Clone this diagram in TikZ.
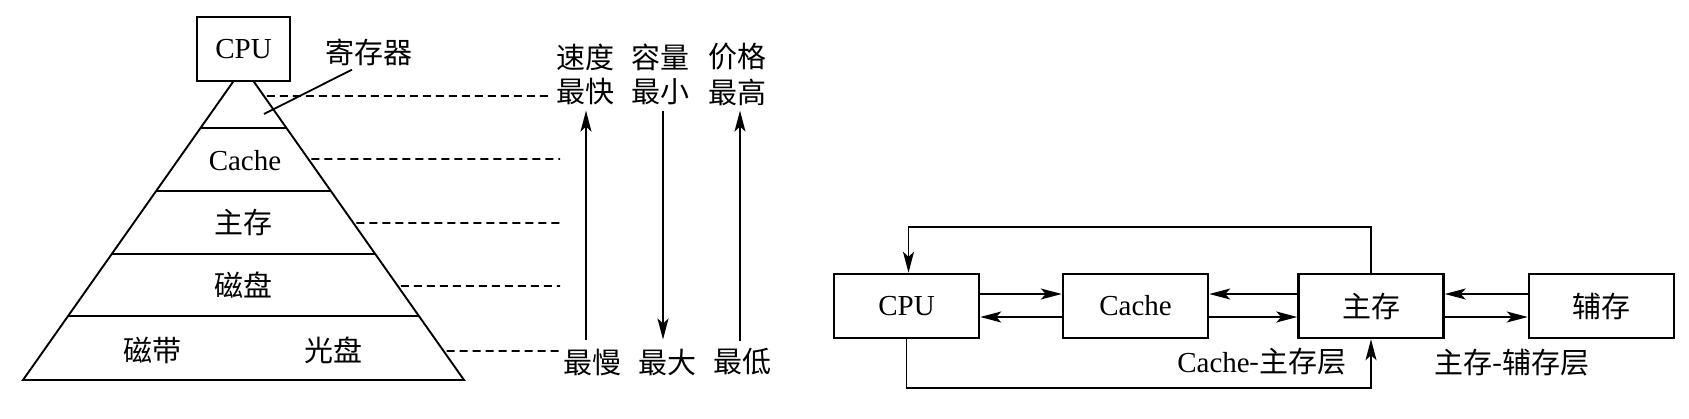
\documentclass[tikz,border=0pt]{standalone}
\usepackage{fontspec}
\setmainfont{Liberation Serif}
\newfontfamily\cjk{Noto Sans CJK SC}
\usetikzlibrary{arrows.meta,calc}
\begin{document}
\begin{tikzpicture}[x=1pt,y=-1pt,
  lat/.style={inner sep=0pt, font=\fontsize{29}{32}\selectfont},
  zh/.style={inner sep=0pt, font=\cjk\fontsize{29}{32}\selectfont},
  box/.style={draw, line width=2.5pt, minimum width=145pt, minimum height=64pt, inner sep=0pt, fill=white, font=\fontsize{29}{32}\selectfont},
  zhbox/.style={box, font=\cjk\fontsize{29}{32}\selectfont},
  conn/.style={line width=1.8pt},
  tip/.style={-{Stealth[length=21pt,width=11pt,inset=5pt]}},
  arr/.style={conn, tip},
  leader/.style={line width=1.7pt, dash pattern=on 8pt off 5pt}]
\useasboundingbox[fill=white] (0,0) rectangle (1689,418);

% ---------- pyramid ----------
\coordinate (apex) at (243.5,67);
\coordinate (bl) at (23,380);
\coordinate (br) at (464,380);
\draw[line width=1.9pt] (apex) -- (bl) -- (br) -- cycle;
\foreach \t in {0.1949,0.3962,0.5974,0.7955}
  \draw[line width=1.9pt] ($(apex)!\t!(bl)$) -- ($(apex)!\t!(br)$);
\node[box, minimum width=93pt, minimum height=64pt] (cpu1) at (243.5,49) {CPU};

\node[zh] (reg) at (369,52) {寄存器};
\coordinate (regpt) at (264,114);
\draw[conn] ([xshift=-17pt,yshift=-4pt]reg.south) -- (regpt);

\node[lat] (cache1) at (245,161) {Cache};
\node[zh] (main1) at (243,222) {主存};
\node[zh] (disk1) at (243,285) {磁盘};
\node[zh] (tape1) at (152,350) {磁带};
\node[zh] (opt1) at (333,350) {光盘};

% ---------- scales ----------
\node[zh] (speed) at (585,57) {速度};
\node[zh] (cap) at (660,57) {容量};
\node[zh] (price) at (737,57) {价格};
\node[zh] (fast) at (585,92) {最快};
\node[zh] (small) at (660,92) {最小};
\node[zh] (high) at (737,92) {最高};
\node[zh] (slow) at (592,362) {最慢};
\node[zh] (big) at (667,362) {最大};
\node[zh] (low) at (742,362) {最低};

\draw[arr, shorten <=8pt, shorten >=5pt] ([xshift=1pt]fast.south |- slow.north) -- ([xshift=1pt]fast.south);
\draw[arr, shorten <=6pt, shorten >=9pt] ([xshift=3pt]small.south) -- ([xshift=3pt]small.south |- big.north);
\draw[arr, shorten <=7pt, shorten >=5pt] ([xshift=3pt]high.south |- low.north) -- ([xshift=3pt]high.south);

% ---------- dashed leaders ----------
\coordinate (d1) at (552,96);
\coordinate (d2) at (560,159);
\coordinate (d3) at (560,223);
\coordinate (d4) at (560,286);
\coordinate (d5) at (560,351);
\draw[leader] ([xshift=3pt]$(apex)!0.0927!(br)$) -- (d1);
\draw[leader] ([xshift=3pt]$(apex)!0.2939!(br)$) -- (d2);
\draw[leader] ([xshift=3pt]$(apex)!0.4984!(br)$) -- (d3);
\draw[leader] ([xshift=3pt]$(apex)!0.6997!(br)$) -- (d4);
\draw[leader] ([xshift=3pt]$(apex)!0.9073!(br)$) -- (d5);

% ---------- right diagram ----------
\node[box] (cpu2) at (906.5,306) {CPU};
\node[box] (cache2) at (1135.5,306) {Cache};
\node[zhbox] (mem2) at (1371,306) {主存};
\node[zhbox] (aux2) at (1601.5,306) {辅存};

\draw[arr] ([yshift=12pt]cpu2.east) -- ([yshift=12pt]cache2.west);
\draw[arr] ([yshift=-11pt]cache2.west) -- ([yshift=-11pt]cpu2.east);
\draw[arr] ([yshift=12pt]mem2.west) -- ([yshift=12pt]cache2.east);
\draw[arr] ([yshift=-11pt]cache2.east) -- ([yshift=-11pt]mem2.west);
\draw[arr] ([yshift=12pt]aux2.west) -- ([yshift=12pt]mem2.east);
\draw[arr] ([yshift=-11pt]mem2.east) -- ([yshift=-11pt]aux2.west);

\coordinate (toprail) at (0,227);
\coordinate (botrail) at (0,388);
\draw[arr] (mem2.north) -- (mem2.north |- toprail) -| ([xshift=2pt]cpu2.north);
\draw[arr] (cpu2.south) -- (cpu2.south |- botrail) -| (mem2.south);

\node[lat, anchor=east] (l1) at (1347,362) {Cache{\cjk -主存层}};
\node[zh] (l2) at (1512,363) {主存-辅存层};
\end{tikzpicture}
\end{document}
